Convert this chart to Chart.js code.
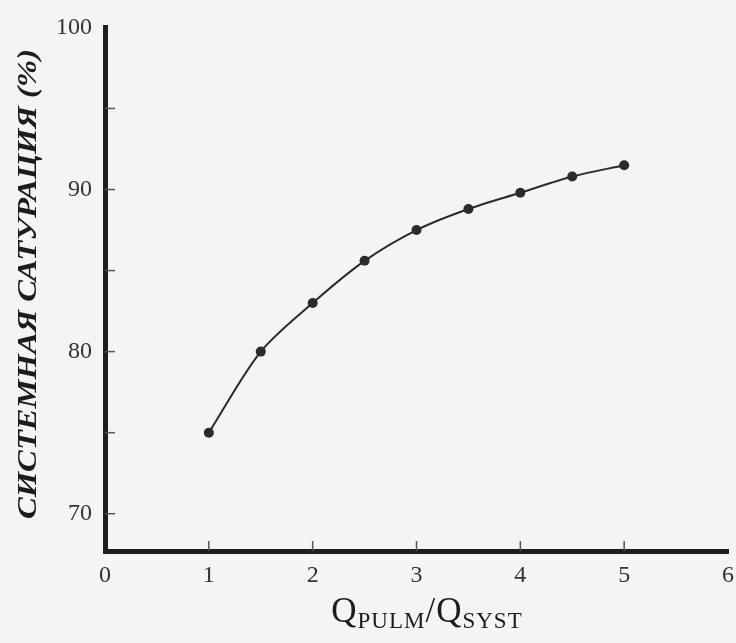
<!DOCTYPE html>
<html>
<head>
<meta charset="utf-8">
<script src="https://cdn.jsdelivr.net/npm/chart.js@4"></script>
<style>
  html, body { margin: 0; padding: 0; background: #f4f4f2; }
  #wrap { width: 736px; height: 643px; }
</style>
</head>
<body>
<div id="wrap"><canvas id="chart" width="736" height="643"></canvas></div>
<script>
// Q_pulm / Q_syst ratio and systemic saturation
const flowRatio = [1, 1.5, 2, 2.5, 3, 3.5, 4, 4.5, 5];
const saturation = [75, 80, 83, 85.6, 87.5, 88.8, 89.8, 90.8, 91.5];

const xTickValues = [0, 1, 2, 3, 4, 5, 6];
const yTickValues = [70, 75, 80, 85, 90, 95, 100];
const yLabelled = [70, 80, 90, 100];

const yTitle = 'СИСТЕМНАЯ САТУРАЦИЯ (%)';
const xTitleParts = [
    { text: 'Q', sub: false },
    { text: 'PULM', sub: true },
    { text: '/Q', sub: false },
    { text: 'SYST', sub: true },
];

const ink = '#2b2b2b';
const serif = "'Liberation Serif', 'DejaVu Serif', serif";

// small inward tick marks + the two axis titles
const decorations = {
    id: 'decorations',
    afterDraw(chart) {
        const { ctx, chartArea, scales } = chart;
        ctx.save();
        ctx.strokeStyle = '#555';
        ctx.lineWidth = 1.5;
        yTickValues.filter(v => v < 100).forEach(v => {
            const y = scales.y.getPixelForValue(v);
            ctx.beginPath();
            ctx.moveTo(chartArea.left, y);
            ctx.lineTo(chartArea.left + 10, y);
            ctx.stroke();
        });
        xTickValues.filter(v => v > 0 && v < 6).forEach(v => {
            const x = scales.x.getPixelForValue(v);
            ctx.beginPath();
            ctx.moveTo(x, chartArea.bottom);
            ctx.lineTo(x, chartArea.bottom - 10);
            ctx.stroke();
        });

        // y title, rotated and stretched a little to the book's wide face
        ctx.fillStyle = '#1c1c1c';
        ctx.font = `italic bold 27px ${serif}`;
        ctx.textAlign = 'center';
        ctx.textBaseline = 'middle';
        const w = ctx.measureText(yTitle).width;
        ctx.translate(29, 284);
        ctx.rotate(-Math.PI / 2);
        ctx.scale(470 / w, 1);
        ctx.fillText(yTitle, 0, 0);
        ctx.setTransform(1, 0, 0, 1, 0, 0);

        // x title with subscripts
        const bigFont = `35px ${serif}`;
        const subFont = `23px ${serif}`;
        ctx.letterSpacing = '1px';
        ctx.textAlign = 'left';
        ctx.textBaseline = 'alphabetic';
        let total = 0;
        xTitleParts.forEach(p => {
            ctx.font = p.sub ? subFont : bigFont;
            total += ctx.measureText(p.text).width;
        });
        let x = 427 - total / 2;
        xTitleParts.forEach(p => {
            ctx.font = p.sub ? subFont : bigFont;
            ctx.fillText(p.text, x, p.sub ? 628 : 622);
            x += ctx.measureText(p.text).width;
        });
        ctx.restore();
    }
};

new Chart(document.getElementById('chart'), {
    type: 'line',
    data: {
        datasets: [{
            data: flowRatio.map((q, i) => ({ x: q, y: saturation[i] })),
            borderColor: ink,
            borderWidth: 2,
            backgroundColor: ink,
            pointRadius: 5,
            pointBackgroundColor: ink,
            pointBorderWidth: 0,
            tension: 0.3,
        }],
    },
    options: {
        responsive: false,
        animation: false,
        layout: { padding: { top: 25, right: 8, left: 0, bottom: 0 } },
        plugins: { legend: { display: false }, tooltip: { enabled: false } },
        scales: {
            x: {
                type: 'linear',
                min: 0,
                max: 6,
                afterFit: s => { s.height = 92; s.paddingRight = 0; },
                afterBuildTicks: s => { s.ticks = xTickValues.map(v => ({ value: v })); },
                grid: { drawOnChartArea: false, drawTicks: false },
                border: { display: true, width: 5, color: '#1e1e1e' },
                ticks: {
                    autoSkip: false,
                    maxRotation: 0,
                    padding: 10,
                    color: '#333',
                    font: { family: serif, size: 24 },
                },
            },
            y: {
                min: 67.7,
                max: 100,
                afterFit: s => { s.width = 105; },
                afterBuildTicks: s => { s.ticks = yTickValues.map(v => ({ value: v })); },
                grid: { drawOnChartArea: false, drawTicks: false },
                border: { display: true, width: 5, color: '#1e1e1e' },
                ticks: {
                    autoSkip: false,
                    padding: 13,
                    color: '#333',
                    font: { family: serif, size: 24 },
                    callback: v => (yLabelled.includes(v) ? String(v) : ''),
                },
            },
        },
    },
    plugins: [decorations],
});
</script>
</body>
</html>
